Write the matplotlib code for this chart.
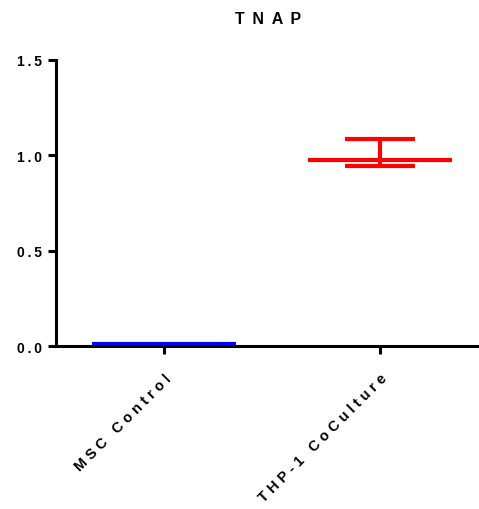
import matplotlib.pyplot as plt
import matplotlib.transforms as mtransforms

# Data
groups = ['MSC Control', 'THP-1 CoCulture']
means = [0.01, 0.977]
err_low = [0.0, 0.031]
err_high = [0.0, 0.109]
colors = ['#0000ff', '#ff0000']
yticks = [0.0, 0.5, 1.0, 1.5]

plt.rcParams['font.family'] = ['Liberation Sans', 'DejaVu Sans']


def spaced(s, sep='\u2009'):
    # Prism-style letter spacing
    return sep.join(s)


fig = plt.figure(figsize=(4.79, 5.10), dpi=100)
ax = fig.add_axes([0.1169, 0.3196, 0.8831, 0.5608])

for i, (m, lo, hi, c) in enumerate(zip(means, err_low, err_high, colors)):
    ax.hlines(m, i - 0.333, i + 0.333, color=c, linewidth=3)
    if hi > 0:
        ax.errorbar(i, m, yerr=[[lo], [hi]], fmt='none', ecolor=c,
                    elinewidth=3, capsize=25, capthick=3)

ax.set_xlim(-0.5, 1.458)
ax.set_ylim(0, 1.5)
ax.set_yticks(yticks)
ax.set_yticklabels([spaced(f'{v:.1f}') for v in yticks], fontsize=10, fontweight='bold')
ax.set_xticks(range(len(groups)))
ax.set_xticklabels([spaced(g, '\u2009\u200a') for g in groups], rotation=45, ha='right',
                   rotation_mode='anchor', fontsize=10.5, fontweight='bold')

# nudge rotated labels a little left
shift = mtransforms.ScaledTranslation(-4 / 100, 0, fig.dpi_scale_trans)
for lbl in ax.get_xticklabels():
    lbl.set_transform(lbl.get_transform() + shift)

ax.spines['top'].set_visible(False)
ax.spines['right'].set_visible(False)
ax.spines['left'].set_linewidth(2.2)
ax.spines['bottom'].set_linewidth(2.2)
ax.tick_params(axis='both', width=2.2, length=6, direction='out')
ax.tick_params(axis='x', pad=12)
ax.tick_params(axis='y', pad=4)

fig.text(0.5595, 0.961, spaced('TNAP', ' \u2009'), ha='center', va='center',
         fontsize=11.5, fontweight='bold')

fig.savefig('out.png', dpi=100, facecolor='white')
